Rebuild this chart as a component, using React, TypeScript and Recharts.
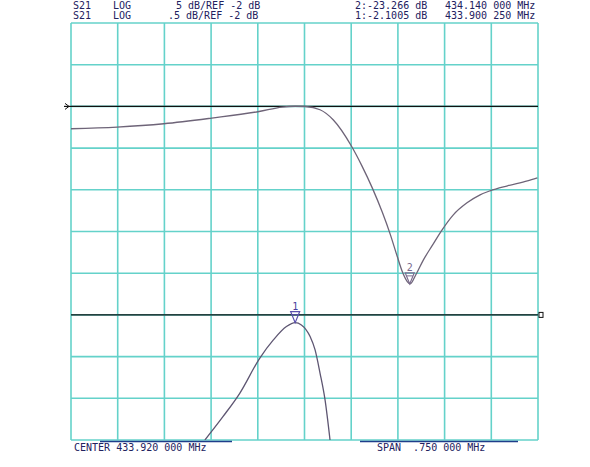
import React from "react";
import {
  ComposedChart,
  Line,
  XAxis,
  YAxis,
  CartesianGrid,
  ReferenceLine,
  ReferenceDot,
} from "recharts";

// Frequency axis (MHz): center 433.920, span 0.750
const freqTicks = [
  433.545, 433.62, 433.695, 433.77, 433.845, 433.92, 433.995, 434.07, 434.145, 434.22, 434.295,
];
// Trace 1: 5 dB/div, ref -2 dB (left scale)
const leftTicks = [-42, -37, -32, -27, -22, -17, -12, -7, -2, 3, 8];
// Trace 2: 0.5 dB/div, ref -2 dB (right scale)
const rightTicks = [-3.5, -3, -2.5, -2, -1.5, -1, -0.5, 0, 0.5, 1, 1.5];

const topFreq = [
  433.545, 433.619, 433.694, 433.771, 433.847, 433.884, 433.905, 433.921, 433.945, 433.966,
  433.996, 434.012, 434.029, 434.045, 434.058, 434.069, 434.077, 434.085, 434.09, 434.098,
  434.111, 434.125, 434.141, 434.159, 434.181, 434.202, 434.218, 434.246, 434.278, 434.294,
];
const topDb = [
  -4.68, -4.48, -4.08, -3.4, -2.61, -2.08, -1.98, -2.01, -2.4, -3.6,
  -6.84, -9.1, -11.8, -14.7, -17.4, -20.0, -21.8, -23.0, -23.28, -22.3,
  -20.4, -18.7, -16.8, -15.0, -13.56, -12.6, -12.12, -11.52, -10.92, -10.56,
];

const botFreq = [
  433.76, 433.789, 433.816, 433.848, 433.87, 433.891, 433.905, 433.915, 433.929, 433.937,
  433.945, 433.953, 433.961,
];
const botDb = [
  -3.5, -3.22, -2.94, -2.52, -2.3, -2.14, -2.093, -2.12, -2.26, -2.42, -2.7, -3.02, -3.5,
];

const marker1 = { f: 433.905, db: -2.093, label: "1" };
const marker2 = { f: 434.089, db: -23.28, label: "2" };

const headerLine1 = ["S21", "LOG", "5 dB/REF -2 dB", "2:-23.266 dB", "434.140 000 MHz"];
const headerLine2 = ["S21", "LOG", ".5 dB/REF -2 dB", "1:-2.1005 dB", "433.900 250 MHz"];
const footerLeft = "CENTER 433.920 000 MHz";
const footerRight = "SPAN  .750 000 MHz";

const topData = topFreq.map((f, i) => ({ f, db: topDb[i] }));
const botData = botFreq.map((f, i) => ({ f, db: botDb[i] }));

const GRID = "#64d2ca";
const TRACE = "#6e6478";
const TEXT = "#22215e";
const FONT = "'DejaVu Sans Mono', monospace";

const LeftRefMark = (props: any) => {
  const vb = props.viewBox || {};
  const x = vb.x;
  const y = vb.y;
  return (
    <g>
      <line x1={x - 7} y1={y} x2={x} y2={y} stroke="#111" strokeWidth={1.2} />
      <path d={`M${x - 6},${y - 3} L${x - 2},${y} L${x - 6},${y + 3}`} fill="none" stroke="#111" strokeWidth={1} />
    </g>
  );
};

const RightRefMark = (props: any) => {
  const vb = props.viewBox || {};
  const x = vb.x + vb.width;
  const y = vb.y;
  return (
    <g>
      <rect x={x + 1} y={y - 2.5} width={4} height={5} fill="none" stroke="#111" strokeWidth={1} />
    </g>
  );
};

const makeMarker = (label: string, color: string, labelColor: string) => (p: any) => {
  const cx = p.cx;
  const cy = p.cy;
  return (
    <g>
      <path
        d={`M${cx - 4.5},${cy - 11} L${cx + 4.5},${cy - 11} L${cx},${cy} Z`}
        fill="none"
        stroke={color}
        strokeWidth={1.2}
      />
      <line x1={cx - 3} y1={cy - 8} x2={cx + 3} y2={cy - 8} stroke={color} strokeWidth={1} />
      <text x={cx} y={cy - 13} textAnchor="middle" fontFamily={FONT} fontSize={10} fill={labelColor}>
        {label}
      </text>
    </g>
  );
};

export default function App() {
  return (
    <div style={{ position: "absolute", left: 0, top: 0, width: 590, height: 467, background: "#fff" }}>
      <ComposedChart
        width={590}
        height={467}
        margin={{ top: 23, left: 71, right: 52, bottom: 27 }}
      >
        <XAxis
          xAxisId="f"
          dataKey="f"
          type="number"
          domain={[433.545, 434.295]}
          ticks={freqTicks}
          interval={0}
          hide
          allowDataOverflow
        />
        <YAxis
          yAxisId="left"
          type="number"
          domain={[-42, 8]}
          ticks={leftTicks}
          interval={0}
          hide
          allowDataOverflow
        />
        <YAxis
          yAxisId="right"
          orientation="right"
          type="number"
          domain={[-3.5, 1.5]}
          ticks={rightTicks}
          interval={0}
          hide
          allowDataOverflow
        />
        <CartesianGrid xAxisId="f" yAxisId="left" stroke={GRID} strokeWidth={1.6} />
        <ReferenceLine
          xAxisId="f"
          yAxisId="left"
          y={-2}
          stroke="#111"
          strokeWidth={1.2}
          label={<LeftRefMark />}
        />
        <ReferenceLine
          xAxisId="f"
          yAxisId="right"
          y={-2}
          stroke="#111"
          strokeWidth={1.2}
          label={<RightRefMark />}
        />
        <Line
          xAxisId="f"
          yAxisId="left"
          data={topData}
          dataKey="db"
          type="monotone"
          stroke={TRACE}
          strokeWidth={1.3}
          dot={false}
          isAnimationActive={false}
        />
        <Line
          xAxisId="f"
          yAxisId="right"
          data={botData}
          dataKey="db"
          type="monotone"
          stroke="#5e5672"
          strokeWidth={1.3}
          dot={false}
          isAnimationActive={false}
        />
        <ReferenceDot
          xAxisId="f"
          yAxisId="right"
          x={marker1.f}
          y={marker1.db}
          shape={makeMarker(marker1.label, "#5a4fae", "#4a3f9e")}
        />
        <ReferenceDot
          xAxisId="f"
          yAxisId="left"
          x={marker2.f}
          y={marker2.db}
          shape={makeMarker(marker2.label, "#7a6a8e", "#7a6a8e")}
        />
      </ComposedChart>
      <svg
        width={590}
        height={467}
        style={{ position: "absolute", left: 0, top: 0, pointerEvents: "none" }}
      >
        <g fontFamily={FONT} fontSize={10} fill={TEXT}>
          <text x={73} y={9}>{headerLine1[0]}</text>
          <text x={113} y={9}>{headerLine1[1]}</text>
          <text x={176} y={9} xmlSpace="preserve">{headerLine1[2]}</text>
          <text x={355} y={9}>{headerLine1[3]}</text>
          <text x={445} y={9} xmlSpace="preserve">{headerLine1[4]}</text>
          <text x={73} y={19}>{headerLine2[0]}</text>
          <text x={113} y={19}>{headerLine2[1]}</text>
          <text x={168} y={19} xmlSpace="preserve">{headerLine2[2]}</text>
          <text x={355} y={19}>{headerLine2[3]}</text>
          <text x={445} y={19} xmlSpace="preserve">{headerLine2[4]}</text>
          <text x={74} y={451} xmlSpace="preserve">{footerLeft}</text>
          <text x={377} y={451} xmlSpace="preserve" style={{ whiteSpace: "pre" }}>{footerRight}</text>
        </g>
        <line x1={100} y1={441.5} x2={232} y2={441.5} stroke="#1f3d8a" strokeWidth={1.5} />
        <line x1={360} y1={441.5} x2={518} y2={441.5} stroke="#1f3d8a" strokeWidth={1.5} />
      </svg>
    </div>
  );
}
